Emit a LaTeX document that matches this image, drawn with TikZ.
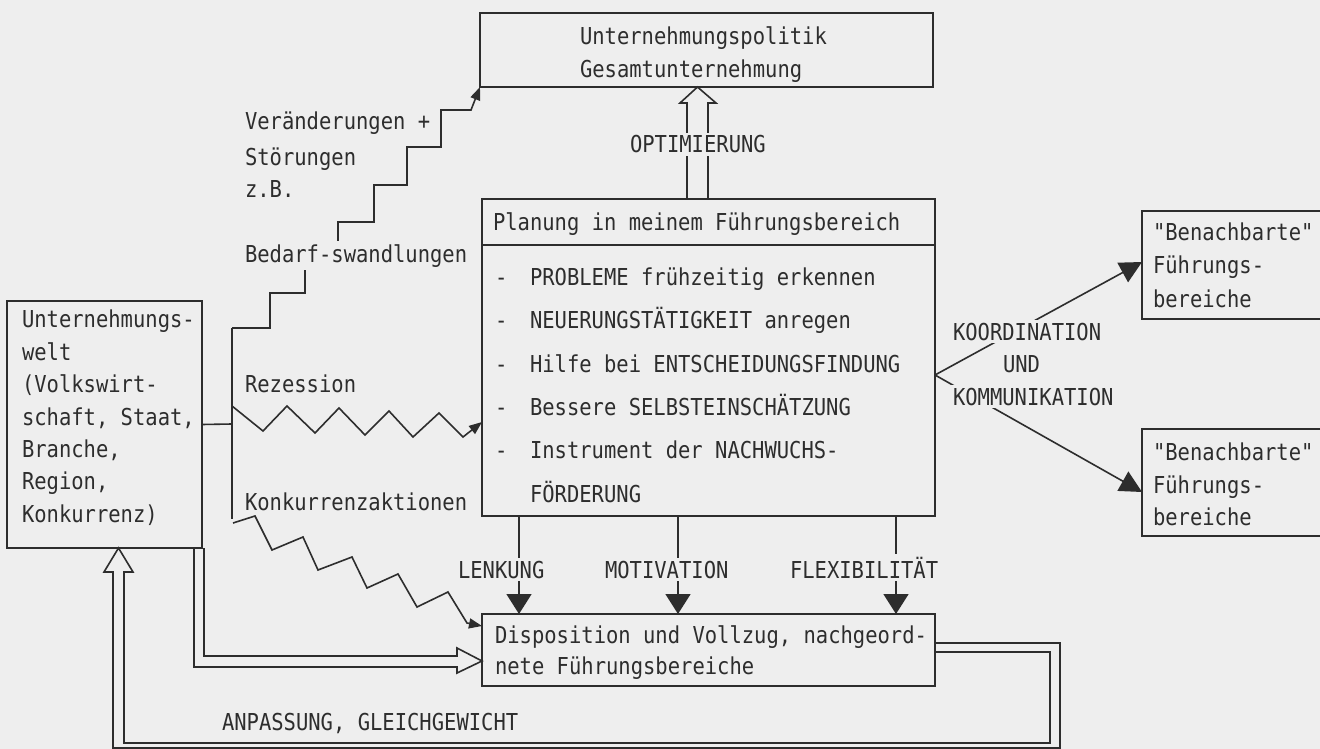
\documentclass[tikz,border=0pt]{standalone}
\usepackage{fontspec}
\setmainfont{DejaVu Sans Mono}[FakeStretch=0.88,Ligatures=TeXOff]
\usetikzlibrary{arrows.meta}
\definecolor{bgc}{RGB}{238,238,238}
\definecolor{ink}{RGB}{45,45,45}
\begin{document}
\begin{tikzpicture}[x=1pt,y=-1pt,
  every node/.style={inner sep=0pt, outer sep=0pt},
  txt/.style={anchor=base west, text=ink, font=\fontsize{23.3}{28}\selectfont},
  cut/.style={txt, fill=bgc, inner sep=3pt},
  box/.style={draw=ink, line width=1.6pt, anchor=north west, inner sep=0pt},
  ln/.style={draw=ink, line width=1.6pt, line join=miter},
  bigtip/.style={-{Triangle[length=20pt,width=25pt]}},
  sidetip/.style={-{Triangle[length=22pt,width=22pt]}},
  smalltip/.style={-{Triangle[length=13pt,width=10pt]}}
]
\useasboundingbox (0,0) rectangle (1320,749);
\fill[bgc] (0,0) rectangle (1320,749);

% ---------- boxes ----------
\node[box, minimum width=453pt, minimum height=74pt] (top) at (480,13) {};
\node[box, minimum width=453pt, minimum height=317pt] (plan) at (482,199) {};
\draw[ln] (plan.west |- 0,245) -- (plan.east |- 0,245);
\node[box, minimum width=195pt, minimum height=247pt] (world) at (7,301) {};
\node[box, minimum width=453pt, minimum height=72pt] (disp) at (482,614) {};
\node[box, minimum width=200pt, minimum height=108pt] (nb1) at (1142,211) {};
\node[box, minimum width=200pt, minimum height=107pt] (nb2) at (1142,429) {};

% ---------- texts in boxes ----------
\node[txt] (t1) at (580,45) {Unternehmungspolitik};
\node[txt] (t2) at (580,78) {Gesamtunternehmung};

\node[txt] (p0) at (493,230) {Planung in meinem Führungsbereich};
\node[txt] (d1) at (495,285) {-};
\node[txt] (d2) at (495,328) {-};
\node[txt] (d3) at (495,372) {-};
\node[txt] (d4) at (495,415) {-};
\node[txt] (d5) at (495,458) {-};
\node[txt] (p1) at (530,285) {PROBLEME frühzeitig erkennen};
\node[txt] (p2) at (530,328) {NEUERUNGSTÄTIGKEIT anregen};
\node[txt] (p3) at (530,372) {Hilfe bei ENTSCHEIDUNGSFINDUNG};
\node[txt] (p4) at (530,415) {Bessere SELBSTEINSCHÄTZUNG};
\node[txt] (p5) at (530,458) {Instrument der NACHWUCHS-};
\node[txt] (p6) at (530,502) {FÖRDERUNG};

\node[txt] (w1) at (22,327) {Unternehmungs-};
\node[txt] (w2) at (22,360) {welt};
\node[txt] (w3) at (22,392) {(Volkswirt-};
\node[txt] (w4) at (22,425) {schaft, Staat,};
\node[txt] (w5) at (22,457) {Branche,};
\node[txt] (w6) at (22,489) {Region,};
\node[txt] (w7) at (22,522) {Konkurrenz)};

\node[txt] (s1) at (495,643) {Disposition und Vollzug, nachgeord-};
\node[txt] (s2) at (495,674) {nete Führungsbereiche};

\node[txt] (n1) at (1153,240) {"Benachbarte"};
\node[txt] (n2) at (1153,273) {Führungs-};
\node[txt] (n3) at (1153,307) {bereiche};
\node[txt] (n4) at (1153,460) {"Benachbarte"};
\node[txt] (n5) at (1153,493) {Führungs-};
\node[txt] (n6) at (1153,525) {bereiche};

% ---------- environment influences ----------
\draw[ln] (world.east) -- (232,424);
\coordinate (vt) at (232,328);
\coordinate (vb) at (232,519);
\draw[ln] (vt) -- (vb);

\draw[ln, smalltip] (vt) -- (270,328) -- (270,293) -- (305,293) -- (305,253)
  -- (338,253) -- (338,222) -- (374,222) -- (374,185) -- (407,185)
  -- (407,147) -- (441,147) -- (441,110) -- (471,110) -- (top.south west);

\draw[ln, smalltip] (232,406) -- (263,431) -- (287,406) -- (315,433) -- (339,408)
  -- (365,435) -- (389,411) -- (413,437) -- (439,413) -- (463,437)
  -- (plan.west |- 0,422);

\draw[ln, smalltip] (233,523) -- (255,516) -- (272,550) -- (303,537) -- (318,570)
  -- (352,557) -- (367,588) -- (398,574) -- (417,607) -- (448,592)
  -- (467,623) -- (disp.west |- 0,626);

\node[txt] (e1) at (245,130) {Veränderungen +};
\node[txt] (e2) at (245,165) {Störungen};
\node[txt] (e3) at (245,197) {z.B.};
\node[cut] (e4) at (242,262) {Bedarf-swandlungen};
\node[txt] (e5) at (245,392) {Rezession};
\node[txt] (e6) at (245,510) {Konkurrenzaktionen};

% ---------- optimierung (hollow arrow) ----------
\draw[ln] (plan.north -| 687,0) -- (687,103) -- (680,103) -- (top.south -| 697.5,0)
  -- (716,103) -- (708,103) -- (plan.north -| 708,0);
\node[cut] (opt) at (627,153) {OPTIMIERUNG};

% ---------- lenkung / motivation / flexibilitaet ----------
\draw[ln, bigtip] (plan.south -| 519,0) -- (disp.north -| 519,0);
\draw[ln, bigtip] (plan.south -| 678,0) -- (disp.north -| 678,0);
\draw[ln, bigtip] (plan.south -| 896,0) -- (disp.north -| 896,0);
\node[cut] (len) at (455,578) {LENKUNG};
\node[cut] (mot) at (602,578) {MOTIVATION};
\node[cut] (flx) at (787,578) {FLEXIBILITÄT};

% ---------- koordination ----------
\coordinate (kk) at (plan.east |- 0,375);
\draw[ln, sidetip] (kk) -- (nb1.west |- 0,262);
\draw[ln, sidetip] (kk) -- (nb2.west |- 0,492);
\node[cut] (ko1) at (950,340) {KOORDINATION};
\node[cut] (ko2) at (1000,372) {UND};
\node[cut] (ko3) at (950,405) {KOMMUNIKATION};

% ---------- double-line flows ----------
\draw[ln] (world.south east -| 194,0) -- (194,667) -- (457,667) -- (457,673)
  -- (disp.west |- 0,661) -- (457,648) -- (457,656) -- (204,656)
  -- (world.south east -| 204,0);

\draw[ln] (disp.east |- 0,643) -- (1060,643) -- (1060,748) -- (113,748) -- (113,572)
  -- (104,572) -- (world.south -| 118.5,0) -- (133,572) -- (124,572) -- (124,743)
  -- (1050,743) -- (1050,652) -- (disp.east |- 0,652);
\node[txt] (anp) at (222,730) {ANPASSUNG, GLEICHGEWICHT};
\end{tikzpicture}
\end{document}
